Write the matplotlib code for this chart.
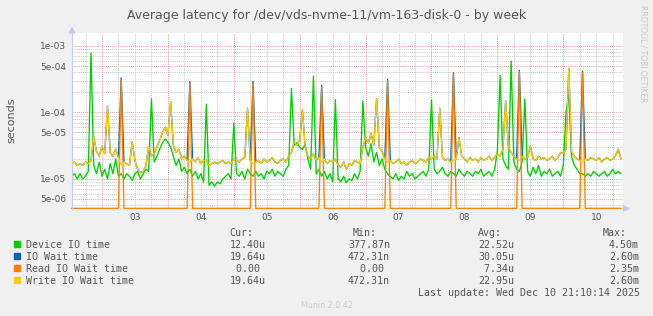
import numpy as np
import matplotlib
matplotlib.use("Agg")
import matplotlib.pyplot as plt
from matplotlib.patches import Rectangle, Polygon

# hourly samples from Dec 2 13:00 to Dec 10 21:00, values in microseconds
device_io = [
    11, 12, 10, 12, 10, 11, 13, 780, 16, 12, 18, 11,
    14, 10, 17, 12, 20, 11, 12, 10, 12, 11, 9.5, 12,
    13, 10, 12, 14, 13, 160, 18, 22, 28, 35, 40, 36,
    30, 22, 16, 20, 13, 15, 12, 14, 11, 13, 10, 12,
    9, 133, 8, 9, 7.8, 9, 8.5, 10, 11, 12, 10, 69,
    12, 11, 13, 10, 14, 12, 11, 13, 11, 12, 10, 13,
    12, 14, 11, 13, 12, 11, 14, 16, 230, 32, 35, 30,
    28, 33, 20, 14, 350, 12, 14, 11, 13, 10, 12, 9,
    155, 10, 9, 11, 8.8, 10, 9.5, 12, 10, 13, 149, 30,
    22, 34, 18, 25, 16, 20, 14, 12, 11, 10, 12, 9.5,
    11, 10, 13, 11, 12, 10, 11, 12, 13, 11, 14, 155,
    14, 12, 13, 15, 12, 11, 13, 12, 11, 14, 12, 11,
    13, 12, 11, 13, 12, 14, 11, 12, 13, 11, 14, 27,
    360, 20, 16, 14, 595, 18, 14, 13, 18, 160, 13, 11,
    15, 12, 16, 11, 13, 12, 14, 11, 12, 13, 11, 16,
    103, 183, 22, 16, 14, 12, 12, 11, 12, 11, 13, 12,
    11, 12, 13, 11, 12, 14, 12, 13, 12,
]

io_wait = [
    17, 18, 16, 17, 16, 18, 17, 19, 43, 26, 22, 31,
    24, 125, 25, 22, 28, 21, 331, 18, 17, 16, 36, 19,
    14, 12.5, 13, 16, 31, 22, 24, 30, 38, 50, 60, 45,
    145, 32, 25, 28, 20, 22, 19, 293, 20, 18, 21, 17,
    19, 19, 16, 17, 18, 17, 18, 19, 17, 18, 17, 20,
    19, 18, 20, 21, 116, 19, 292, 18, 19, 17, 20, 18,
    19, 21, 18, 17, 19, 20, 18, 22, 25, 36, 32, 38,
    110, 30, 22, 20, 24, 19, 21, 258, 20, 17, 19, 18,
    20, 16, 15, 18, 14, 17, 16, 19, 18, 17, 30, 42,
    35, 48, 32, 160, 30, 26, 20, 316, 19, 17, 18, 20,
    17, 18, 16, 18, 19, 17, 18, 20, 19, 18, 21, 20,
    22, 20, 116, 21, 19, 20, 18, 394, 20, 42, 22, 20,
    18, 21, 19, 20, 18, 21, 19, 20, 22, 19, 21, 24,
    22, 28, 149, 30, 25, 22, 20, 429, 22, 20, 21, 31,
    20, 19, 22, 20, 21, 19, 20, 22, 19, 21, 25, 24,
    28, 460, 26, 22, 20, 19, 418, 20, 19, 21, 20, 19,
    21, 18, 20, 21, 19, 20, 22, 28, 20,
]

read_wait = [
    0, 0, 0, 0, 0, 0, 0, 0, 0, 0, 0, 0,
    0, 0, 0, 0, 0, 0, 315, 0, 0, 0, 0, 0,
    0, 0, 0, 0, 0, 0, 0, 0, 0, 0, 0, 0,
    0, 0, 0, 0, 0, 0, 0, 275, 0, 0, 0, 0,
    0, 0, 0, 0, 0, 0, 0, 0, 0, 0, 0, 0,
    0, 0, 0, 0, 0, 0, 275, 0, 0, 0, 0, 0,
    0, 0, 0, 0, 0, 0, 0, 0, 0, 0, 0, 0,
    0, 0, 0, 0, 0, 0, 0, 240, 0, 0, 0, 0,
    0, 0, 0, 0, 0, 0, 0, 0, 0, 0, 0, 0,
    0, 0, 0, 0, 0, 0, 0, 298, 0, 0, 0, 0,
    0, 0, 0, 0, 0, 0, 0, 0, 0, 0, 0, 0,
    0, 0, 0, 0, 0, 0, 0, 375, 0, 0, 0, 0,
    0, 0, 0, 0, 0, 0, 0, 0, 0, 0, 0, 0,
    0, 0, 0, 0, 0, 0, 0, 410, 0, 0, 0, 0,
    0, 0, 0, 0, 0, 0, 0, 0, 0, 0, 0, 0,
    0, 0, 0, 0, 0, 0, 400, 0, 0, 0, 0, 0,
    0, 0, 0, 0, 0, 0, 0, 0, 0,
]

write_wait = [
    17, 18, 16, 17, 16, 18, 17, 19, 43, 26, 22, 31,
    24, 125, 25, 22, 28, 21, 16, 18, 17, 16, 36, 19,
    14, 12.5, 13, 16, 31, 22, 24, 30, 38, 50, 60, 45,
    145, 32, 25, 28, 20, 22, 19, 18, 20, 18, 21, 17,
    19, 19, 16, 17, 18, 17, 18, 19, 17, 18, 17, 20,
    19, 18, 20, 21, 116, 19, 17, 18, 19, 17, 20, 18,
    19, 21, 18, 17, 19, 20, 18, 22, 25, 36, 32, 38,
    110, 30, 22, 20, 24, 19, 21, 18, 20, 17, 19, 18,
    20, 16, 15, 18, 14, 17, 16, 19, 18, 17, 30, 42,
    35, 48, 32, 160, 30, 26, 20, 18, 19, 17, 18, 20,
    17, 18, 16, 18, 19, 17, 18, 20, 19, 18, 21, 20,
    22, 20, 116, 21, 19, 20, 18, 19, 20, 42, 22, 20,
    18, 21, 19, 20, 18, 21, 19, 20, 22, 19, 21, 24,
    22, 28, 149, 30, 25, 22, 20, 19, 22, 20, 21, 31,
    20, 19, 22, 20, 21, 19, 20, 22, 19, 21, 25, 24,
    28, 460, 26, 22, 20, 19, 18, 20, 19, 21, 20, 19,
    21, 18, 20, 21, 19, 20, 22, 28, 20,
]

day_labels = ["03", "04", "05", "06", "07", "08", "09", "10"]
ytick_vals = [5e-6, 1e-5, 5e-5, 1e-4, 5e-4, 1e-3]
ytick_labels = ["5e-06", "1e-05", "5e-05", "1e-04", "5e-04", "1e-03"]

legend_labels = ["Device IO time", "IO Wait time", "Read IO Wait time", "Write IO Wait time"]
legend_colors = ["#00cc00", "#0066b3", "#ff8000", "#ffcc00"]
cur_vals = ["12.40u", "19.64u", " 0.00", "19.64u"]
min_vals = ["377.87n", "472.31n", "  0.00", "472.31n"]
avg_vals = ["22.52u", "30.05u", " 7.34u", "22.95u"]
max_vals = ["4.50m", "2.60m", "2.35m", "2.60m"]

W, H = 653, 316
TXT = "#555555"
ymin, ymax = 3.62e-6, 1.585e-3

fig = plt.figure(figsize=(W / 100, H / 100), dpi=100, facecolor="#f0f0f0")
ax = fig.add_axes([72 / W, 1 - 208.3 / H, (623 - 72) / W, (208.3 - 32.7) / H])
ax.set_facecolor("white")

# day number (Dec 3 00:00 = 3.0), one sample per hour
t = 2 + 13 / 24 + np.arange(len(device_io)) / 24

series = [device_io, io_wait, read_wait, write_wait]
for vals, col in zip(series, legend_colors):
    v = np.array(vals, dtype=float) * 1e-6
    # zero readings sit on the bottom edge, like rrdtool draws them
    v = np.where(v > 0, v, ymin)
    ax.plot(t, v, color=col, lw=0.95, zorder=3, clip_on=(col != "#ff8000"))

ax.set_yscale("log")
ax.set_xlim(2.545, 10.906)
ax.set_ylim(ymin, ymax)

# vertical grid: red at midnight, gray every 6 hours
for g in np.arange(2.75, 10.9, 0.25):
    major = abs(g - round(g)) < 1e-6
    ax.axvline(g, color="#f0a0a0" if major else "#cccccc", lw=0.75,
               linestyle=(0, (1, 1)), zorder=1)

ax.set_xticks([d + 0.5 for d in range(3, 11)])
ax.set_xticklabels(day_labels)
ax.set_yticks(ytick_vals)
ax.set_yticklabels(ytick_labels)
minor = [m * 10.0 ** e for e in range(-6, -2) for m in (2, 3, 4, 6, 7, 8, 9)]
ax.set_yticks([m for m in minor if ymin < m < ymax], minor=True)
ax.yaxis.set_minor_formatter(matplotlib.ticker.NullFormatter())
ax.grid(which="major", axis="y", color="#f0a0a0", lw=0.75, linestyle=(0, (1, 1)))
ax.grid(which="minor", axis="y", color="#cccccc", lw=0.75, linestyle=(0, (1, 1)))
ax.set_axisbelow(True)
ax.tick_params(which="both", length=0, labelsize=6.5, colors=TXT)
ax.tick_params(axis="y", pad=4.3)
ax.tick_params(axis="x", pad=3.5)
for s in ax.spines.values():
    s.set_visible(False)

# overlay in pixel coordinates for axes arrows and text
ov = fig.add_axes([0, 0, 1, 1])
ov.set_xlim(0, W)
ov.set_ylim(H, 0)
ov.axis("off")
ov.patch.set_visible(False)

axcol = "#c4c8f4"
ov.plot([72, 72], [209, 32], color=axcol, lw=0.8)
ov.add_patch(Polygon([[69.5, 33], [74.5, 33], [72, 27.5]], closed=True, color=axcol))
ov.plot([623, 625], [208.5, 208.5], color=axcol, lw=0.8)
ov.add_patch(Polygon([[623.5, 206], [623.5, 211], [629, 208.5]], closed=True, color=axcol))

ov.text(326.5, 18.5, "Average latency for /dev/vds-nvme-11/vm-163-disk-0 - by week",
        ha="center", va="baseline", fontsize=9, color=TXT)
ov.text(11, 120, "seconds", rotation=90, ha="center", va="center", fontsize=8, color=TXT)
ov.text(643, 5, "RRDTOOL / TOBI OETIKER", rotation=270, ha="center", va="top",
        fontsize=5.5, color="#c8c8c8")
ov.text(326.7, 305.7, "Munin 2.0.42", ha="center", va="center", fontsize=5.8, color="#cccccc")

mono = dict(family="DejaVu Sans Mono", fontsize=7.2, color=TXT, va="baseline", ha="left")
for x, s in zip([229.6, 353, 478, 603], ["Cur:", "Min:", "Avg:", "Max:"]):
    ov.text(x, 236, s, **mono)
for k in range(4):
    yb = 248 + 12 * k
    ov.add_patch(Rectangle((14, yb - 6.7), 6, 6, color=legend_colors[k]))
    ov.text(26, yb, legend_labels[k], **mono)
    ov.text(229.6, yb, cur_vals[k], **mono)
    ov.text(348, yb, min_vals[k], **mono)
    ov.text(478, yb, avg_vals[k], **mono)
    ov.text(609, yb, max_vals[k], **mono)
ov.text(418, 296, "Last update: Wed Dec 10 21:10:14 2025", **mono)

fig.savefig("out.png", dpi=100, facecolor=fig.get_facecolor())
